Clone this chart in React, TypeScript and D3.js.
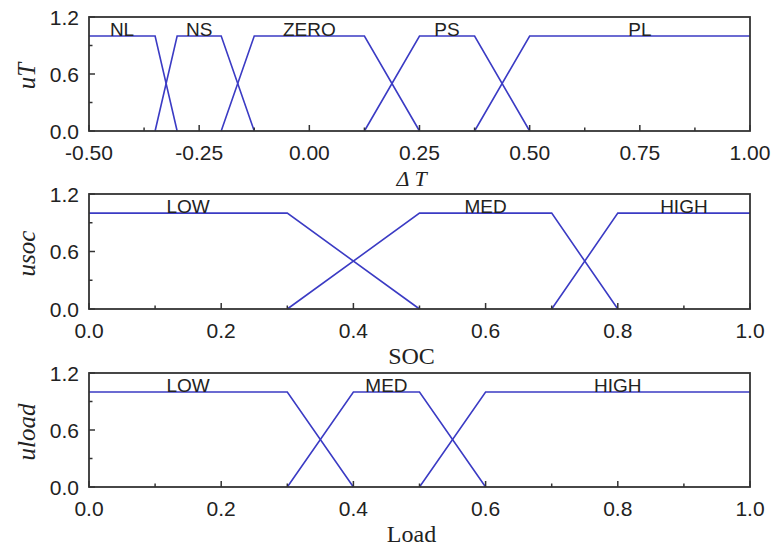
import React, { useRef, useEffect } from 'react';
import * as d3 from 'd3';

// membership functions, each set as trapezoid [a, b, c, d]
const dtNames = ['NL', 'NS', 'ZERO', 'PS', 'PL'];
const dtBreaks = [
  [-0.5, -0.5, -0.35, -0.3],
  [-0.35, -0.3, -0.2, -0.125],
  [-0.2, -0.125, 0.125, 0.25],
  [0.125, 0.25, 0.375, 0.5],
  [0.375, 0.5, 1.0, 1.0]
];
const dtTicks = [-0.5, -0.25, 0, 0.25, 0.5, 0.75, 1.0];
const dtMinor = [-0.375, -0.125, 0.125, 0.375, 0.625, 0.875];

const socNames = ['LOW', 'MED', 'HIGH'];
const socBreaks = [
  [0, 0, 0.3, 0.5],
  [0.3, 0.5, 0.7, 0.8],
  [0.7, 0.8, 1.0, 1.0]
];

const loadNames = ['LOW', 'MED', 'HIGH'];
const loadBreaks = [
  [0, 0, 0.3, 0.4],
  [0.3, 0.4, 0.5, 0.6],
  [0.5, 0.6, 1.0, 1.0]
];

const unitTicks = [0, 0.2, 0.4, 0.6, 0.8, 1.0];
const unitMinor = [0.1, 0.3, 0.5, 0.7, 0.9];
const yTicks = [0, 0.6, 1.2];
const yMinor = [0.3, 0.9];

const panels = [
  { names: dtNames, breaks: dtBreaks, domain: [-0.5, 1.0], ticks: dtTicks, minor: dtMinor, fmt: '.2f', yLabel: 'uT', xLabel: '\u0394 T', xItalic: true, top: 17, bottom: 131 },
  { names: socNames, breaks: socBreaks, domain: [0, 1], ticks: unitTicks, minor: unitMinor, fmt: '.1f', yLabel: 'usoc', xLabel: 'SOC', xItalic: false, top: 194, bottom: 309 },
  { names: loadNames, breaks: loadBreaks, domain: [0, 1], ticks: unitTicks, minor: unitMinor, fmt: '.1f', yLabel: 'uload', xLabel: 'Load', xItalic: false, top: 373, bottom: 487 }
];

const W = 773;
const H = 549;
const left = 89;
const right = 750;
const lineColor = '#3b3bc4';
const frameColor = '#333';

const App = () => {
  const ref = useRef<SVGSVGElement>(null);

  useEffect(() => {
    const svg = d3.select(ref.current);
    svg.selectAll('*').remove();

    panels.forEach(p => {
      const x = d3.scaleLinear().domain(p.domain).range([left, right]);
      const y = d3.scaleLinear().domain([0, 1.2]).range([p.bottom, p.top]);
      const g = svg.append('g');

      // membership lines
      const line = d3.line<number[]>().x(d => x(d[0])).y(d => y(d[1]));
      p.breaks.forEach(([a, b, c, d]) => {
        const pts: number[][] = [];
        if (a === b) pts.push([a, 1]); else { pts.push([a, 0]); pts.push([b, 1]); }
        if (c === d) pts.push([c, 1]); else { pts.push([c, 1]); pts.push([d, 0]); }
        g.append('path')
          .attr('d', line(pts))
          .attr('fill', 'none')
          .attr('stroke', lineColor)
          .attr('stroke-width', 1.6);
      });

      // set names
      g.selectAll('.setname')
        .data(p.breaks)
        .enter().append('text')
        .attr('x', d => x((d[1] + d[2]) / 2))
        .attr('y', y(1))
        .attr('text-anchor', 'middle')
        .attr('font-family', 'Liberation Sans, Arial, sans-serif')
        .attr('font-size', 19)
        .attr('fill', '#222')
        .text((d, i) => p.names[i]);

      // frame
      g.append('rect')
        .attr('x', left).attr('y', p.top)
        .attr('width', right - left).attr('height', p.bottom - p.top)
        .attr('fill', 'none')
        .attr('stroke', frameColor)
        .attr('stroke-width', 1.8);

      // x ticks (inward)
      p.ticks.forEach(t => {
        g.append('line')
          .attr('x1', x(t)).attr('x2', x(t))
          .attr('y1', p.bottom).attr('y2', p.bottom - 6)
          .attr('stroke', frameColor).attr('stroke-width', 1.5);
      });
      p.minor.forEach(t => {
        g.append('line')
          .attr('x1', x(t)).attr('x2', x(t))
          .attr('y1', p.bottom).attr('y2', p.bottom - 3.5)
          .attr('stroke', frameColor).attr('stroke-width', 1.5);
      });
      yTicks.forEach(t => {
        g.append('line')
          .attr('x1', left).attr('x2', left + 6)
          .attr('y1', y(t)).attr('y2', y(t))
          .attr('stroke', frameColor).attr('stroke-width', 1.5);
      });
      yMinor.forEach(t => {
        g.append('line')
          .attr('x1', left).attr('x2', left + 3.5)
          .attr('y1', y(t)).attr('y2', y(t))
          .attr('stroke', frameColor).attr('stroke-width', 1.5);
      });

      // tick labels
      const fx = d3.format(p.fmt);
      g.selectAll('.xt')
        .data(p.ticks)
        .enter().append('text')
        .attr('x', d => x(d))
        .attr('y', p.bottom + 29)
        .attr('text-anchor', 'middle')
        .attr('font-family', 'Liberation Sans, Arial, sans-serif')
        .attr('font-size', 21)
        .attr('fill', '#222')
        .text(d => fx(d).replace('\u2212', '-'));
      g.selectAll('.yt')
        .data(yTicks)
        .enter().append('text')
        .attr('x', left - 10)
        .attr('y', d => y(d) + 7.5)
        .attr('text-anchor', 'end')
        .attr('font-family', 'Liberation Sans, Arial, sans-serif')
        .attr('font-size', 21)
        .attr('fill', '#222')
        .text(d => d3.format('.1f')(d));

      // axis titles
      g.append('text')
        .attr('x', (left + right) / 2 - 8)
        .attr('y', p.bottom + 55)
        .attr('text-anchor', 'middle')
        .attr('font-family', 'Liberation Serif, Times New Roman, serif')
        .attr('font-style', p.xItalic ? 'italic' : 'normal')
        .attr('font-size', p.xItalic ? 22 : 24)
        .attr('fill', '#222')
        .text(p.xLabel);
      g.append('text')
        .attr('transform', `translate(35, ${(p.top + p.bottom) / 2 + 2}) rotate(-90)`)
        .attr('text-anchor', 'middle')
        .attr('font-family', 'Liberation Serif, Times New Roman, serif')
        .attr('font-style', 'italic')
        .attr('font-size', 25)
        .attr('fill', '#222')
        .text(p.yLabel);
    });
  }, []);

  return (
    <svg ref={ref} width={W} height={H}
      style={{ position: 'absolute', left: 0, top: 0, background: '#fff' }} />
  );
};

export default App;
